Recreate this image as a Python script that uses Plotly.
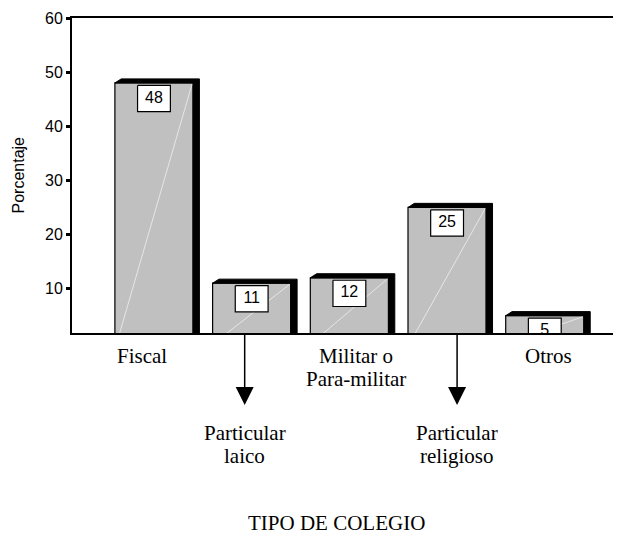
import plotly.graph_objects as go

categories = ['Fiscal', 'Particular laico', 'Militar o Para-militar',
              'Particular religioso', 'Otros']
porcentaje = [48, 11, 12, 25, 5]
y_ticks = [0, 10, 20, 30, 40, 50, 60]
label_lines = [['Fiscal'], ['Particular', 'laico'], ['Militar o', 'Para-militar'],
               ['Particular', 'religioso'], ['Otros']]
arrow_to = [False, True, False, True, False]   # labels pushed below with an arrow

xs = list(range(len(categories)))
half = 0.4          # half bar width
dx, dy = 0.065, 0.75  # 3d depth offset
bw, bt, bb = 0.168, 0.45, 5.3  # value box half width / top gap / bottom gap

fig = go.Figure()

fig.add_trace(go.Bar(
    x=xs, y=porcentaje, width=2 * half,
    marker=dict(color='#c0c0c0', line=dict(color='black', width=1.2)),
    hoverinfo='skip'
))

# black top + right side of each bar (fake 3d)
for x, v in zip(xs, porcentaje):
    x0, x1 = x - half, x + half
    fig.add_trace(go.Scatter(
        x=[x0, x0 + dx, x1 + dx, x1 + dx, x1, x1, x0],
        y=[v, v + dy, v + dy, 0, 0, v, v],
        fill='toself', fillcolor='black', mode='lines',
        line=dict(color='black', width=1), hoverinfo='skip'
    ))
    # faint highlight across the front face
    fig.add_trace(go.Scatter(
        x=[x0 + 0.02, x1 - 0.01], y=[0, v - 0.2], mode='lines',
        line=dict(color='rgba(255,255,255,0.6)', width=1), hoverinfo='skip'
    ))

# value boxes
for x, v in zip(xs, porcentaje):
    fig.add_trace(go.Scatter(
        x=[x - bw, x + bw, x + bw, x - bw, x - bw],
        y=[v - bt, v - bt, v - bb, v - bb, v - bt],
        fill='toself', fillcolor='white', mode='lines',
        line=dict(color='black', width=1.2), hoverinfo='skip'
    ))
fig.add_trace(go.Scatter(
    x=xs, y=[v - (bt + bb) / 2 for v in porcentaje],
    text=[str(v) for v in porcentaje], mode='text', cliponaxis=True,
    textfont=dict(family='Liberation Sans, Arial', size=16, color='black'),
    hoverinfo='skip'
))

serif = dict(family='Liberation Serif, Times New Roman', size=21, color='black')
annotations = []
label_shift = [-12, -7, 7, 10, 4]
for x, lines, arrow, sx in zip(xs, label_lines, arrow_to, label_shift):
    first = 23 if not arrow else 100   # px below the axis of the first line
    if arrow:
        annotations.append(dict(
            x=x, y=0, xref='x', yref='paper', xshift=sx, yshift=-72,
            text='', showarrow=True, axref='pixel', ayref='pixel', ax=0, ay=-72,
            arrowhead=2, arrowsize=2.4, arrowwidth=1.5, arrowcolor='black'
        ))
    for k, line in enumerate(lines):
        annotations.append(dict(
            x=x, y=0, xref='x', yref='paper', xshift=sx,
            yshift=-(first + 23 * k), yanchor='middle',
            text=line, showarrow=False, font=serif
        ))

annotations.append(dict(
    x=0.482, y=0, xref='paper', yref='paper', yshift=-190, yanchor='middle',
    text='TIPO DE COLEGIO', showarrow=False, font=serif
))
annotations.append(dict(
    x=0, y=0.5, xref='paper', yref='paper', xshift=-54, xanchor='center',
    yanchor='middle', textangle=-90, text='Porcentaje', showarrow=False,
    font=dict(family='Liberation Sans, Arial', size=16, color='black')
))

fig.update_layout(
    width=613, height=529,
    margin=dict(l=64, r=0, t=10, b=204),
    plot_bgcolor='white', paper_bgcolor='white',
    showlegend=False,
    annotations=annotations,
    xaxis=dict(
        range=[-0.839, 4.78], showticklabels=False, ticks='',
        showgrid=False, zeroline=False,
        showline=True, linecolor='black', linewidth=2, mirror=True
    ),
    yaxis=dict(
        range=[1.8, 60], tickvals=y_ticks, showgrid=False, zeroline=False,
        showline=True, linecolor='black', linewidth=2,
        ticks='outside', ticklen=4, tickwidth=3, tickcolor='black',
        tickfont=dict(family='Liberation Sans, Arial', size=16, color='black')
    )
)

fig.write_html("out.html")
